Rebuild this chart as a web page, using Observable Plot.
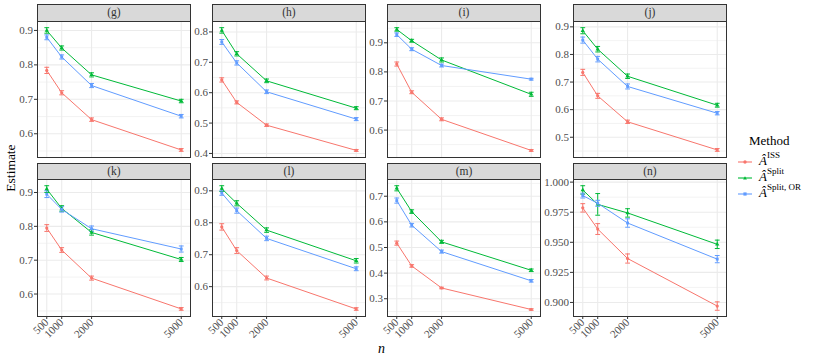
<!DOCTYPE html>
<html><head><meta charset="utf-8">
<script src="https://cdn.jsdelivr.net/npm/d3@7"></script>
<script src="https://cdn.jsdelivr.net/npm/@observablehq/plot@0.6"></script>
<style>
body{margin:0;background:#fff;}
#chart{position:relative;width:814px;height:362px;overflow:hidden;font-family:"Liberation Serif","DejaVu Serif",serif;background:#fff;}
#chart svg, #chart svg text{font-family:"Liberation Serif","DejaVu Serif",serif !important;}
.strip{position:absolute;background:#D9D9D9;border:1px solid #333;box-sizing:border-box;text-align:center;font-size:11.5px;color:#333;line-height:15px;font-weight:normal;}
.pan{position:absolute;}
.lab{position:absolute;color:#000;}
.leg{position:absolute;left:738px;font-size:13px;color:#000;white-space:nowrap;}
.leg sup{font-size:9px;position:relative;top:-2px;}
</style></head><body><div id="chart"></div>
<script>
// ---- data ----
const panelLabels = ["(g)","(h)","(i)","(j)","(k)","(l)","(m)","(n)"];
const methods = ["ISS","Split","Split, OR"];
const methodColors = ["#F8766D","#00BA38","#619CFF"];
const sampleSizes = [500,1000,2000,5000];
const xTickLabels = ["500","1000","2000","5000"];

// estimates, one row per panel (g..n), one value per sample size
const estISS = [
  [0.784,0.719,0.641,0.553],
  [0.642,0.568,0.493,0.410],
  [0.827,0.730,0.637,0.530],
  [0.735,0.650,0.556,0.454],
  [0.795,0.730,0.647,0.556],
  [0.787,0.713,0.627,0.530],
  [0.517,0.428,0.342,0.258],
  [0.9786,0.961,0.9365,0.897]
];
const estSplit = [
  [0.900,0.849,0.771,0.695],
  [0.805,0.728,0.639,0.549],
  [0.946,0.907,0.841,0.723],
  [0.886,0.819,0.721,0.616],
  [0.910,0.853,0.782,0.702],
  [0.907,0.861,0.777,0.681],
  [0.731,0.640,0.522,0.411],
  [0.9935,0.9815,0.9744,0.9483]
];
const estSplitOR = [
  [0.880,0.823,0.740,0.651],
  [0.767,0.698,0.603,0.513],
  [0.928,0.878,0.822,0.775],
  [0.852,0.783,0.684,0.587],
  [0.895,0.850,0.793,0.733],
  [0.893,0.838,0.751,0.656],
  [0.683,0.587,0.484,0.370],
  [0.9888,0.9824,0.966,0.936]
];
// error bar half-widths
const seISS = [
  [0.009,0.006,0.005,0.004],
  [0.007,0.005,0.004,0.003],
  [0.007,0.005,0.005,0.003],
  [0.011,0.009,0.006,0.005],
  [0.010,0.007,0.006,0.004],
  [0.010,0.009,0.006,0.004],
  [0.008,0.005,0.003,0.003],
  [0.0035,0.0045,0.0038,0.0035]
];
const seSplit = [
  [0.008,0.006,0.006,0.005],
  [0.009,0.007,0.006,0.005],
  [0.006,0.005,0.007,0.007],
  [0.011,0.010,0.008,0.007],
  [0.010,0.008,0.008,0.006],
  [0.009,0.008,0.007,0.007],
  [0.010,0.007,0.006,0.005],
  [0.0035,0.009,0.0035,0.0035]
];
const seSplitOR = [
  [0.007,0.006,0.006,0.005],
  [0.008,0.007,0.006,0.005],
  [0.006,0.005,0.005,0.003],
  [0.011,0.010,0.009,0.006],
  [0.010,0.008,0.008,0.009],
  [0.007,0.008,0.007,0.006],
  [0.010,0.007,0.006,0.005],
  [0.002,0.0025,0.0035,0.003]
];
const yTicks = [
  [0.6,0.7,0.8,0.9],
  [0.4,0.5,0.6,0.7,0.8],
  [0.6,0.7,0.8,0.9],
  [0.5,0.6,0.7,0.8,0.9],
  [0.6,0.7,0.8,0.9],
  [0.6,0.7,0.8,0.9],
  [0.3,0.4,0.5,0.6,0.7],
  [0.900,0.925,0.950,0.975,1.000]
];
const yTickDigits = [1,1,1,1,1,1,1,3];

// ---- layout ----
const colX0 = [37,212,387,573];
const panelW = 153;
const stripTop = [4,163];
const plotTop = [21,179];
const plotBottom = [157,316];
const ML = 40, MR = 1, MT = 1;
const FONT = "Liberation Serif, DejaVu Serif, serif";

const chart = document.getElementById("chart");
const estAll = [estISS, estSplit, estSplitOR];
const seAll = [seISS, seSplit, seSplitOR];

const capSymbol = {draw(ctx, size){ const w = Math.sqrt(size/Math.PI); ctx.moveTo(-w,0); ctx.lineTo(w,0); }};

for (let p = 0; p < 8; p++) {
  const row = Math.floor(p/4), col = p % 4;
  const rows = [];
  methods.forEach((m, mi) => {
    sampleSizes.forEach((n, ni) => {
      const est = estAll[mi][p][ni], se = seAll[mi][p][ni];
      rows.push({method: m, n, est, lo: est - se, hi: est + se});
    });
  });
  const ext = [d3.min(rows, d => d.lo), d3.max(rows, d => d.hi)];
  const pad = (ext[1]-ext[0])*0.05;
  const yDom = [ext[0]-pad, ext[1]+pad];
  const major = yTicks[p];
  const step = major[1]-major[0];
  const minor = [major[0]-step/2, ...major.map(t => t+step/2)].filter(t => t > yDom[0] && t < yDom[1]);
  const fmt = d3.format("." + yTickDigits[p] + "f");
  const MB = row === 1 ? 45 : 1;
  const h = plotBottom[row]-plotTop[row];

  const svg = Plot.plot({
    width: panelW + ML + MR,
    height: h + MT + MB,
    marginLeft: ML, marginRight: MR, marginTop: MT, marginBottom: MB,
    style: {background: "transparent", fontFamily: FONT, overflow: "visible"},
    x: {domain: [190, 5310], axis: null},
    y: {domain: yDom, axis: null},
    color: {domain: methods, range: methodColors},
    symbol: {domain: methods, range: ["circle","triangle","square"]},
    marks: [
      Plot.gridY(minor, {stroke: "#EBEBEB", strokeOpacity: 1, strokeWidth: 0.6}),
      Plot.gridY(major, {stroke: "#EBEBEB", strokeOpacity: 1, strokeWidth: 1.1}),
      Plot.gridX(sampleSizes, {stroke: "#EBEBEB", strokeOpacity: 1, strokeWidth: 1.1}),
      Plot.axisY(major, {tickFormat: fmt, tickSize: 3, tickPadding: 1.5, fontSize: 11, fill: "#4D4D4D", stroke: "#333", label: null, fontFamily: FONT}),
      row === 1 ? Plot.axisX(sampleSizes, {tickFormat: d => xTickLabels[sampleSizes.indexOf(d)], tickRotate: -45, tickSize: 3, tickPadding: 1, fontSize: 11, fill: "#4D4D4D", stroke: "#333", label: null, fontFamily: FONT}) : null,
      Plot.ruleX(rows, {x: "n", y1: "lo", y2: "hi", stroke: "method", strokeWidth: 1}),
      Plot.dot(rows, {x: "n", y: "lo", symbol: capSymbol, r: 2.4, stroke: "method", strokeWidth: 1}),
      Plot.dot(rows, {x: "n", y: "hi", symbol: capSymbol, r: 2.4, stroke: "method", strokeWidth: 1}),
      Plot.line(rows, {x: "n", y: "est", stroke: "method", z: "method", strokeWidth: 1}),
      Plot.dot(rows, {x: "n", y: "est", fill: "method", symbol: "method", r: 1.6}),
      Plot.frame({stroke: "#333", strokeWidth: 1})
    ]
  });
  const wrap = document.createElement("div");
  wrap.className = "pan";
  wrap.style.left = (colX0[col] - ML) + "px";
  wrap.style.top = (plotTop[row] - MT) + "px";
  wrap.appendChild(svg);
  chart.appendChild(wrap);

  const strip = document.createElement("div");
  strip.className = "strip";
  strip.style.left = colX0[col] + "px";
  strip.style.top = stripTop[row] + "px";
  strip.style.width = (panelW + 1) + "px";
  strip.style.height = (plotTop[row] - stripTop[row] + 1) + "px";
  strip.textContent = panelLabels[p];
  chart.appendChild(strip);
}

// axis titles
const yt = document.createElement("div");
yt.className = "lab";
yt.textContent = "Estimate";
yt.style.cssText += "font-size:13.5px;left:-19px;top:160px;width:60px;text-align:center;transform:rotate(-90deg);";
chart.appendChild(yt);
const xt = document.createElement("div");
xt.className = "lab";
xt.innerHTML = "<i>n</i>";
xt.style.cssText += "font-size:14px;left:378px;top:341px;";
chart.appendChild(xt);

// legend
const legTitle = document.createElement("div");
legTitle.className = "leg";
legTitle.style.left = "749px";
legTitle.style.top = "133px";
legTitle.textContent = "Method";
chart.appendChild(legTitle);
const legLabels = ["ISS","Split","Split, OR"];
const legSym = ['<circle cx="7" cy="5" r="1.7"', '<path d="M7,3.2 L8.9,6.4 L5.1,6.4 Z"', '<rect x="5.4" y="3.4" width="3.2" height="3.2"'];
methods.forEach((m, i) => {
  const d = document.createElement("div");
  d.className = "leg";
  d.style.top = (152 + i*16) + "px";
  d.innerHTML = `<svg width="15" height="10" style="vertical-align:middle;margin-right:6px"><line x1="0" y1="5" x2="14" y2="5" stroke="${methodColors[i]}" stroke-width="1.1"/>${legSym[i]} fill="${methodColors[i]}"/></svg><i>Â</i><sup>${legLabels[i]}</sup>`;
  chart.appendChild(d);
});
</script>
</body></html>
